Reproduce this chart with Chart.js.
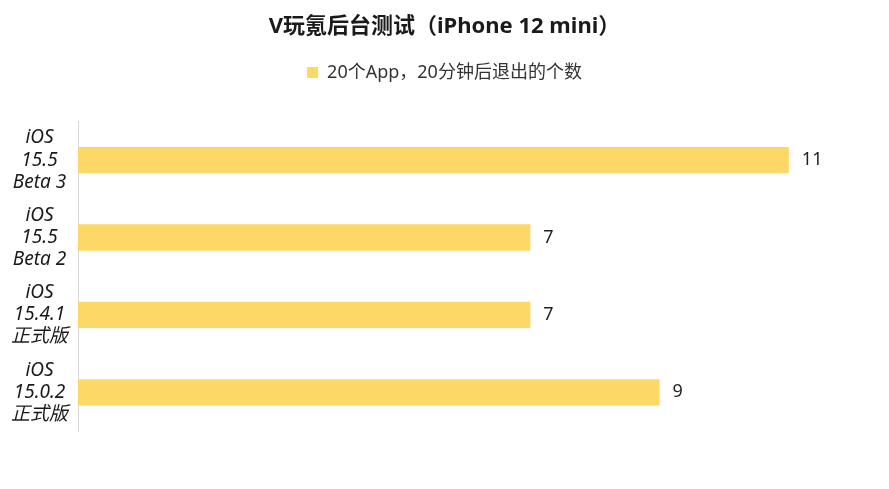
<!DOCTYPE html>
<html>
<head>
<meta charset="utf-8">
<script src="https://cdn.jsdelivr.net/npm/chart.js@4/dist/chart.umd.min.js"></script>
<style>
  html, body { margin: 0; padding: 0; background: #fff; }
  #wrap { width: 889px; height: 489px; }
</style>
</head>
<body>
<div id="wrap"><canvas id="grafico"></canvas></div>
<script>
const categorias = [
  ['iOS', '15.5', 'Beta 3'],
  ['iOS', '15.5', 'Beta 2'],
  ['iOS', '15.4.1', '正式版'],
  ['iOS', '15.0.2', '正式版']
];
const valores = [11, 7, 7, 9];
const nomeSerie = '20个App，20分钟后退出的个数';
const titulo = 'V玩氪后台测试（iPhone 12 mini）';

const FONTE = "'Noto Sans', 'Noto Sans CJK SC', sans-serif";

// rótulos de valor no fim de cada barra
const rotulosValor = {
  id: 'rotulosValor',
  afterDatasetsDraw(chart) {
    const ctx = chart.ctx;
    const meta = chart.getDatasetMeta(0);
    ctx.save();
    ctx.font = '18px ' + FONTE;
    ctx.fillStyle = '#1f1f1f';
    ctx.textAlign = 'left';
    ctx.textBaseline = 'middle';
    meta.data.forEach((bar, i) => {
      ctx.fillText(String(valores[i]), bar.x + 13, bar.y);
    });
    ctx.restore();
  }
};

// mais espaço abaixo da legenda
const espacoLegenda = {
  id: 'espacoLegenda',
  beforeInit(chart) {
    const fitOriginal = chart.legend.fit;
    chart.legend.fit = function () {
      fitOriginal.bind(this)();
      this.height += 30;
    };
  }
};

new Chart(document.getElementById('grafico'), {
  type: 'bar',
  data: {
    labels: categorias,
    datasets: [{
      label: nomeSerie,
      data: valores,
      backgroundColor: '#FED867',
      barPercentage: 0.68,
      categoryPercentage: 0.5
    }]
  },
  options: {
    indexAxis: 'y',
    responsive: true,
    maintainAspectRatio: false,
    animation: false,
    layout: { padding: { left: 0, right: 0, top: 0, bottom: 58 } },
    plugins: {
      title: {
        display: true,
        text: titulo,
        color: '#1a1a1a',
        font: { family: FONTE, size: 22, weight: 'bold' },
        padding: { top: 14, bottom: 13 }
      },
      legend: {
        display: true,
        labels: {
          color: '#333',
          font: { family: FONTE, size: 18 },
          boxWidth: 11,
          boxHeight: 11,
          padding: 10
        }
      },
      tooltip: { enabled: false }
    },
    scales: {
      x: { display: false, min: 0, max: 12.55 },
      y: {
        grid: { display: false, drawTicks: false },
        border: { display: true, color: '#d9d9d9', width: 1 },
        ticks: {
          color: '#1a1a1a',
          crossAlign: 'center',
          padding: 10,
          font: { family: FONTE, size: 19, style: 'italic', lineHeight: 1.16 }
        },
        afterFit(scale) { scale.width = 78; }
      }
    }
  },
  plugins: [rotulosValor, espacoLegenda]
});
</script>
</body>
</html>
